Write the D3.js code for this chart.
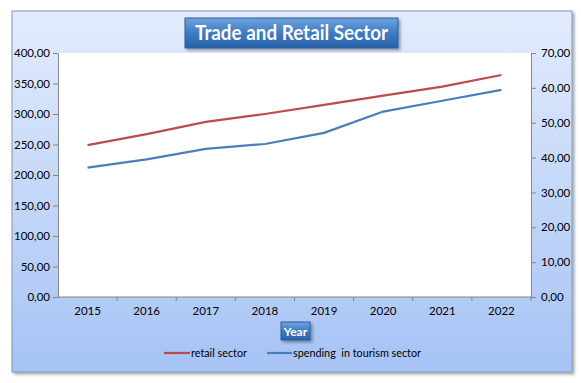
<!DOCTYPE html>
<html><head><meta charset="utf-8">
<script src="https://cdn.jsdelivr.net/npm/d3@7"></script>
<style>body{margin:0;background:#fff}svg{display:block}text{font-family:Lato,"Open Sans",sans-serif}</style>
</head><body>
<script>
const years = ["2015","2016","2017","2018","2019","2020","2021","2022"];
const retailSector = [249, 267, 287, 300, 315, 330, 345, 364];
const tourismSpending = [37.1, 39.5, 42.5, 43.9, 47.1, 53.2, 56.3, 59.4];
const leftTicks = [0,50,100,150,200,250,300,350,400];
const rightTicks = [0,10,20,30,40,50,60,70];
const seriesNames = ["retail sector", "spending  in tourism sector"];

const W = 581, H = 383;
const svg = d3.select("body").append("svg").attr("width", W).attr("height", H);
const defs = svg.append("defs");
const bg = defs.append("linearGradient").attr("id","bg").attr("x1",0).attr("y1",0).attr("x2",0).attr("y2",1);
bg.append("stop").attr("offset","0%").attr("stop-color","#e3ecfc");
bg.append("stop").attr("offset","100%").attr("stop-color","#a6c3f5");
const tb = defs.append("linearGradient").attr("id","tb").attr("x1",0).attr("y1",0).attr("x2",0).attr("y2",1);
tb.append("stop").attr("offset","0%").attr("stop-color","#6fa3dd");
tb.append("stop").attr("offset","50%").attr("stop-color","#3d7cc6");
tb.append("stop").attr("offset","100%").attr("stop-color","#2a62a8");
const sh = defs.append("filter").attr("id","sh").attr("x","-10%").attr("y","-10%").attr("width","130%").attr("height","140%");
sh.append("feDropShadow").attr("dx",2).attr("dy",2).attr("stdDeviation",1.5).attr("flood-color","#000").attr("flood-opacity",0.35);

// chart area
svg.append("rect").attr("x",12).attr("y",11).attr("width",560).attr("height",361)
  .attr("fill","url(#bg)").attr("stroke","#7f97b8").attr("stroke-width",1).attr("filter","url(#sh)");

const m = {l:58, r:531, t:53, b:297};
svg.append("rect").attr("x",m.l).attr("y",m.t).attr("width",m.r-m.l).attr("height",m.b-m.t).attr("fill","#fff");

const x = d3.scaleBand().domain(years).range([m.l, m.r]);
const yL = d3.scaleLinear().domain([0,400]).range([m.b, m.t]);
const yR = d3.scaleLinear().domain([0,70]).range([m.b, m.t]);
const fmt = d => d3.format(".2f")(d).replace(".", ",");

function styleAxis(g){
  g.selectAll("path,line").attr("stroke","#868686");
  g.selectAll("text").attr("fill","#000").style("font-size","11.5px").style("font-family","Lato, sans-serif");
}
svg.append("g").attr("transform",`translate(${m.l},0)`)
  .call(d3.axisLeft(yL).tickValues(leftTicks).tickFormat(fmt).tickSize(5).tickSizeOuter(0).tickPadding(3))
  .call(styleAxis);
svg.append("g").attr("transform",`translate(${m.r},0)`)
  .call(d3.axisRight(yR).tickValues(rightTicks).tickFormat(fmt).tickSize(5).tickSizeOuter(0).tickPadding(5))
  .call(styleAxis);
const xa = svg.append("g").attr("transform",`translate(0,${m.b})`)
  .call(d3.axisBottom(x).tickSize(0).tickPadding(10));
xa.call(styleAxis);
xa.select("path").attr("d", `M${m.l},0H${m.r}`);
xa.selectAll(".bt").data(years.slice(1).concat(["end"])).enter().append("line")
  .attr("x1",(d,i)=>m.l+x.step()*(i+1)).attr("x2",(d,i)=>m.l+x.step()*(i+1))
  .attr("y1",0).attr("y2",4).attr("stroke","#868686");

const lineL = d3.line().x((d,i)=>x(years[i])+x.bandwidth()/2).y(d=>yL(d));
const lineR = d3.line().x((d,i)=>x(years[i])+x.bandwidth()/2).y(d=>yR(d));
svg.append("path").datum(retailSector).attr("d",lineL).attr("fill","none").attr("stroke","#be4b48").attr("stroke-width",2.2);
svg.append("path").datum(tourismSpending).attr("d",lineR).attr("fill","none").attr("stroke","#4a7ebb").attr("stroke-width",2.2);

// title box
const tg = svg.append("g");
tg.append("rect").attr("x",185).attr("y",18).attr("width",213).attr("height",30)
  .attr("fill","url(#tb)").attr("stroke","#2d5f9a").attr("stroke-width",1).attr("filter","url(#sh)");
tg.append("text").attr("x",291.5).attr("y",40).attr("text-anchor","middle")
  .attr("fill","#fff").style("font-weight","bold").style("font-size","20px")
  .attr("textLength",193).attr("lengthAdjust","spacingAndGlyphs").text("Trade and Retail Sector");

// axis title box
const yg = svg.append("g");
yg.append("rect").attr("x",281).attr("y",322).attr("width",29).attr("height",18)
  .attr("fill","url(#tb)").attr("stroke","#2d5f9a").attr("filter","url(#sh)");
yg.append("text").attr("x",295.5).attr("y",335.5).attr("text-anchor","middle")
  .attr("fill","#fff").style("font-weight","bold").style("font-size","12px").text("Year");

// legend
const leg = [
  {name: seriesNames[0], color:"#be4b48", x1:164, x2:190, w:56},
  {name: seriesNames[1], color:"#4a7ebb", x1:267, x2:292, w:128}
];
const lg = svg.append("g");
leg.forEach(d=>{
  lg.append("line").attr("x1",d.x1).attr("x2",d.x2).attr("y1",353).attr("y2",353).attr("stroke",d.color).attr("stroke-width",2.2);
  lg.append("text").attr("x",d.x2+1).attr("y",357).style("font-size","11.5px").attr("fill","#000")
    .attr("xml:space","preserve").attr("textLength",d.w).attr("lengthAdjust","spacingAndGlyphs").text(d.name);
});
</script>
</body></html>
